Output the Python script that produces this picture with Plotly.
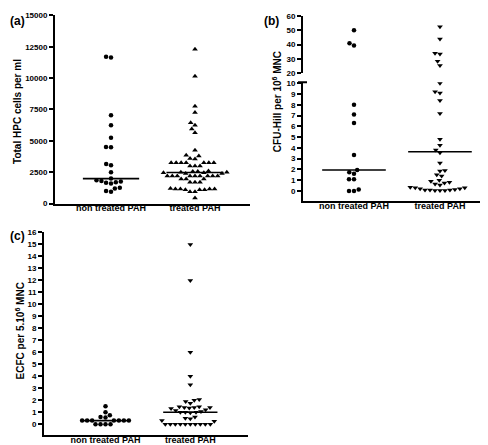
import numpy as np
import plotly.graph_objects as go

W, H = 488, 445

# ---------------- data ----------------
categories = ["non treated PAH", "treated PAH"]

hpc_non_treated = [11700, 11650, 7050, 6250, 5250, 4500, 4480, 3150, 3050, 2500, 2000,
                   1850, 1800, 1750, 1700, 1650, 1600, 1250, 1200, 1000, 950]
hpc_treated = [12300, 10150, 7750, 7250, 6450, 6250, 5950, 5650, 4250, 3850, 3800, 3600,
               3550, 3250, 3250, 3250, 3250, 3250, 3250, 3250, 3000, 3000, 3000, 2600,
               2550, 2550, 2500, 2500, 2450, 2450, 2400, 2400, 2200, 2200, 2200, 2200,
               2200, 2200, 2200, 2200, 2200, 1950, 1950, 1950, 1700, 1700, 1700, 1200,
               1150, 1150, 1150, 1150, 1100, 1100, 1100, 950, 950, 450]
hpc_medians = [1990, 2480]
hpc_ticks = [0, 2500, 5000, 7500, 10000, 12500, 15000]
hpc_tick_labels = ["0", "2500", "5000", "7500", "10000", "12500", "15000"]

cfu_non_treated = [50, 41, 39.5, 8.0, 7.1, 6.3, 3.35, 1.95, 1.75, 1.6, 1.1, 1.1, 0.15, 0.0, 0.0]
cfu_treated = [52.5, 44, 34, 33.5, 28.5, 25.5, 10.0, 9.2, 9.1, 8.4, 7.2, 4.8, 4.25, 3.8,
               3.55, 2.6, 1.9, 1.85, 1.5, 1.4, 1.0, 0.9, 0.8, 0.75, 0.65, 0.55, 0.35, 0.3,
               0.2, 0.15, 0.1, 0.1, 0.05, 0.05, 0.05, 0.1, 0.2, 0.3]
cfu_medians = [1.95, 3.64]
cfu_low_ticks = list(range(0, 11))
cfu_high_ticks = [20, 30, 40, 50, 60]

ecfc_non_treated = [1.5, 1.0, 0.75, 0.6, 0.55, 0.3, 0.3, 0.3, 0.3, 0.3, 0.3, 0.3,
                    0.0, 0.0, 0.0, 0.0]
ecfc_treated = [15, 12, 6, 4, 3.3, 2.05, 2.0, 1.9, 1.75, 1.45, 1.45, 1.4, 1.4, 1.4, 1.35,
                1.3, 1.2, 1.15, 1.05, 1.0, 1.0, 1.0, 0.95, 0.6, 0.5, 0.45, 0.3, 0.25,
                0, 0, 0, 0, 0, 0, 0, 0, 0, 0]
ecfc_medians = [0.3, 1.0]
ecfc_ticks = list(range(0, 17))

# ---------------- layout constants ----------------
A_XDOM, A_XR = [47 / W, 242 / W], [-0.667, 1.655]
A_YDOM, A_YR = [1 - 195.5 / H, 1 - 3.5 / H], [0, 15000]

B_XDOM, B_XR = [295 / W, 487 / W], [-0.593, 1.64]
B_LDOM, B_LR = [1 - 192.7 / H, 1 - 71.7 / H], [-0.91, 10.09]
B_UDOM, B_UR = [1 - 62.7 / H, 1 - 4 / H], [20, 60]

C_XDOM, C_XR = [36 / W, 240 / W], [-0.725, 1.68]
C_YDOM, C_YR = [1 - 431.7 / H, 1 - 225 / H], [-0.9, 16]

BREAK = 15  # values above this go to the upper segment of panel (b)


def y_px(v, dom, rng):
    f = dom[0] + (v - rng[0]) / (rng[1] - rng[0]) * (dom[1] - dom[0])
    return (1 - f) * H


def x_scale(dom, rng):
    return (dom[1] - dom[0]) * W / (rng[1] - rng[0])


def swarm(values, ymap, xs, d=5.0):
    vals = np.asarray(values, float)
    order = np.argsort(vals, kind="stable")
    placed = []
    offs = np.zeros(len(vals))
    for i in order:
        y = ymap(vals[i])
        iv = []
        for px, py in placed:
            dy = abs(py - y)
            if dy < d:
                h = np.sqrt(d * d - dy * dy)
                iv.append((px - h, px + h))
        cands = [0.0] + [a for a, b in iv] + [b for a, b in iv]
        cands.sort(key=lambda c: (abs(c), c))
        chosen = 0.0
        for c in cands:
            if all(not (a + 1e-6 < c < b - 1e-6) for a, b in iv):
                chosen = c
                break
        placed.append((chosen, y))
        offs[i] = chosen
    return offs / xs


fig = go.Figure()

BOLD8 = dict(family="Liberation Sans, Arial", size=8, color="black", weight="bold")
BOLD9 = dict(family="Liberation Sans, Arial", size=9, color="black", weight="bold")

CIRC, TRI = 4.5, 5


def add_group(vals, pos, xa, ya, symbol, size, ymap, xs):
    offs = swarm(vals, ymap, xs)
    fig.add_trace(go.Scatter(
        x=pos + offs, y=vals, mode="markers", xaxis=xa, yaxis=ya,
        marker=dict(symbol=symbol, size=size, color="black", line=dict(width=0)),
        showlegend=False, hoverinfo="skip"))


def add_median(m, pos, half, xa, ya):
    fig.add_trace(go.Scatter(
        x=[pos - half, pos + half], y=[m, m], mode="lines", xaxis=xa, yaxis=ya,
        line=dict(color="black", width=1.6), showlegend=False, hoverinfo="skip"))


# panel (a)
xs_a = x_scale(A_XDOM, A_XR)
ymap_a = lambda v: y_px(v, A_YDOM, A_YR)
add_group(hpc_non_treated, 0, "x", "y", "circle", CIRC, ymap_a, xs_a)
add_group(hpc_treated, 1, "x", "y", "triangle-up", TRI, ymap_a, xs_a)
add_median(hpc_medians[0], 0, 0.335, "x", "y")
add_median(hpc_medians[1], 1, 0.34, "x", "y")

# panel (b) – broken axis
xs_b = x_scale(B_XDOM, B_XR)


def ymap_b(v):
    if v > BREAK:
        return y_px(v, B_UDOM, B_UR)
    return y_px(v, B_LDOM, B_LR)


for vals, pos, sym, sz in [(cfu_non_treated, 0, "circle", CIRC),
                           (cfu_treated, 1, "triangle-down", TRI)]:
    offs = swarm(vals, ymap_b, xs_b)
    vals = np.asarray(vals, float)
    lo = vals <= BREAK
    for mask, ya in [(lo, "y2"), (~lo, "y3")]:
        fig.add_trace(go.Scatter(
            x=pos + offs[mask], y=vals[mask], mode="markers", xaxis="x2", yaxis=ya,
            marker=dict(symbol=sym, size=sz, color="black", line=dict(width=0)),
            showlegend=False, hoverinfo="skip"))
add_median(cfu_medians[0], 0, 0.37, "x2", "y2")
add_median(cfu_medians[1], 1, 0.37, "x2", "y2")

# panel (c)
xs_c = x_scale(C_XDOM, C_XR)
ymap_c = lambda v: y_px(v, C_YDOM, C_YR)
add_group(ecfc_non_treated, 0, "x3", "y4", "circle", CIRC, ymap_c, xs_c)
add_group(ecfc_treated, 1, "x3", "y4", "triangle-down", TRI, ymap_c, xs_c)
add_median(ecfc_medians[0], 0, 0.26, "x3", "y4")
add_median(ecfc_medians[1], 1, 0.32, "x3", "y4")

axis_common = dict(showline=True, linecolor="black", linewidth=2, showgrid=False,
                   zeroline=False, fixedrange=True)
yax = dict(axis_common, ticks="outside", ticklen=4, tickwidth=1.5, tickcolor="black",
           tickfont=BOLD8)
xax = dict(axis_common, ticks="", tickvals=[0, 1], ticktext=categories, tickfont=BOLD9,
           ticklabelstandoff=-5)

fig.update_layout(
    width=W, height=H, autosize=False,
    margin=dict(l=0, r=0, t=0, b=0),
    paper_bgcolor="white", plot_bgcolor="rgba(0,0,0,0)",
    xaxis=dict(xax, domain=A_XDOM, range=A_XR, anchor="y"),
    yaxis=dict(yax, domain=A_YDOM, range=A_YR, anchor="x", tickvals=hpc_ticks,
               ticktext=hpc_tick_labels),
    xaxis2=dict(xax, domain=B_XDOM, range=B_XR, anchor="y2"),
    yaxis2=dict(yax, domain=B_LDOM, range=B_LR, anchor="x2", tickvals=cfu_low_ticks,
                ticktext=[str(t) for t in cfu_low_ticks]),
    yaxis3=dict(yax, domain=B_UDOM, range=B_UR, anchor="x2", tickvals=cfu_high_ticks,
                ticktext=[str(t) for t in cfu_high_ticks]),
    xaxis3=dict(xax, domain=C_XDOM, range=C_XR, anchor="y4"),
    yaxis4=dict(yax, domain=C_YDOM, range=C_YR, anchor="x3", tickvals=ecfc_ticks,
                ticktext=[str(t) for t in ecfc_ticks]),
)

# break cap on lower segment of panel (b)
fig.add_shape(type="line", xref="paper", yref="paper",
              x0=290 / W, x1=299 / W, y0=B_LDOM[1], y1=B_LDOM[1],
              line=dict(color="black", width=2))

TITLE = dict(family="Liberation Sans, Arial", size=10, color="black", weight="bold")
ann = [
    dict(text="Total HPC cells per ml", x=10 / W, y=1 - 102 / H, textangle=-90),
    dict(text="CFU-Hill per 10<sup>6</sup> MNC", x=269 / W, y=1 - 92 / H, textangle=-90),
    dict(text="ECFC per 5.10<sup>6</sup> MNC", x=12 / W, y=1 - 326 / H, textangle=-90),
]
for a in ann:
    fig.add_annotation(xref="paper", yref="paper", showarrow=False, font=TITLE,
                       xanchor="center", yanchor="middle", **a)

LBL = dict(family="Liberation Sans, Arial", size=12, color="black", weight="bold")
for t, x, y in [("(a)", 0, 0), ("(b)", 254, 0), ("(c)", 0, 219)]:
    fig.add_annotation(xref="paper", yref="paper", showarrow=False, font=LBL,
                       text=t, x=x / W, y=1 - y / H, xanchor="left", yanchor="top")

fig.write_html("out.html")
